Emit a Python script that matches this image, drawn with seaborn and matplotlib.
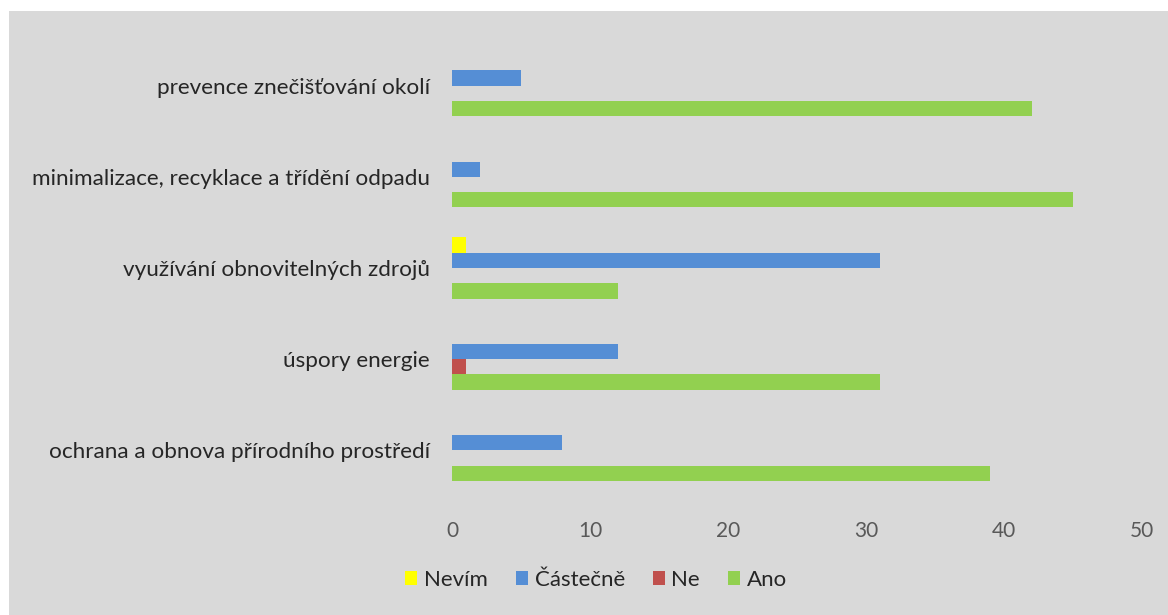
import matplotlib
matplotlib.use("Agg")
import matplotlib.pyplot as plt
import seaborn as sns
import pandas as pd
from matplotlib.patches import Rectangle

categories = [
    "prevence znečišťování okolí",
    "minimalizace, recyklace a třídění odpadu",
    "využívání obnovitelných zdrojů",
    "úspory energie",
    "ochrana a obnova přírodního prostředí",
]
series = ["Nevím", "Částečně", "Ne", "Ano"]
nevim = [0, 0, 1, 0, 0]
castecne = [5, 2, 31, 12, 8]
ne = [0, 0, 0, 1, 0]
ano = [42, 45, 12, 31, 39]
colors = ["#FFFF00", "#558ED5", "#C0504D", "#92D050"]
xticks = [0, 10, 20, 30, 40, 50]

rows = []
for name, vals in zip(series, [nevim, castecne, ne, ano]):
    for c, v in zip(categories, vals):
        rows.append({"kategorie": c, "odpověď": name, "počet": v})
df = pd.DataFrame(rows)

sns.set_theme(style="white")
plt.rcParams["font.family"] = ["Lato", "DejaVu Sans"]

fig = plt.figure(figsize=(11.68, 6.15), dpi=100, facecolor="white")
fig.patches.append(Rectangle((9 / 1168, 0), 1 - 9 / 1168, 1 - 11 / 615,
                             transform=fig.transFigure, facecolor="#D9D9D9",
                             edgecolor="none", zorder=-10))
ax = fig.add_axes([452 / 1168, 1 - 496 / 615, (1142 - 452) / 1168, (496 - 40) / 615])
ax.set_facecolor("none")
ax.set_zorder(5)

sns.barplot(data=df, y="kategorie", x="počet", hue="odpověď", order=categories,
            hue_order=series, palette=colors, saturation=1, orient="h", width=0.67,
            gap=0, edgecolor="none", linewidth=0, ax=ax, legend=True)

ax.set_xlim(0, 50)
ax.set_xticks(xticks)
ax.set_xticklabels([str(t) for t in xticks])
ax.set_xlabel("")
ax.set_ylabel("")
for s in ax.spines.values():
    s.set_visible(False)
ax.tick_params(axis="x", length=0, pad=18, labelsize=15, labelcolor="#595959")
ax.tick_params(axis="y", length=0, pad=16, labelsize=16.2, labelcolor="#262626")

handles, labels = ax.get_legend_handles_labels()
ax.get_legend().remove()
leg = fig.legend(handles, labels, loc="center", bbox_to_anchor=(596 / 1168, 1 - 580 / 615),
                 ncol=4, frameon=False, fontsize=16, handlelength=0.55, handleheight=0.55,
                 handletextpad=0.3, columnspacing=1.25, labelcolor="#262626")
leg.set_zorder(6)

fig.savefig("out.png", dpi=100, facecolor="white")
